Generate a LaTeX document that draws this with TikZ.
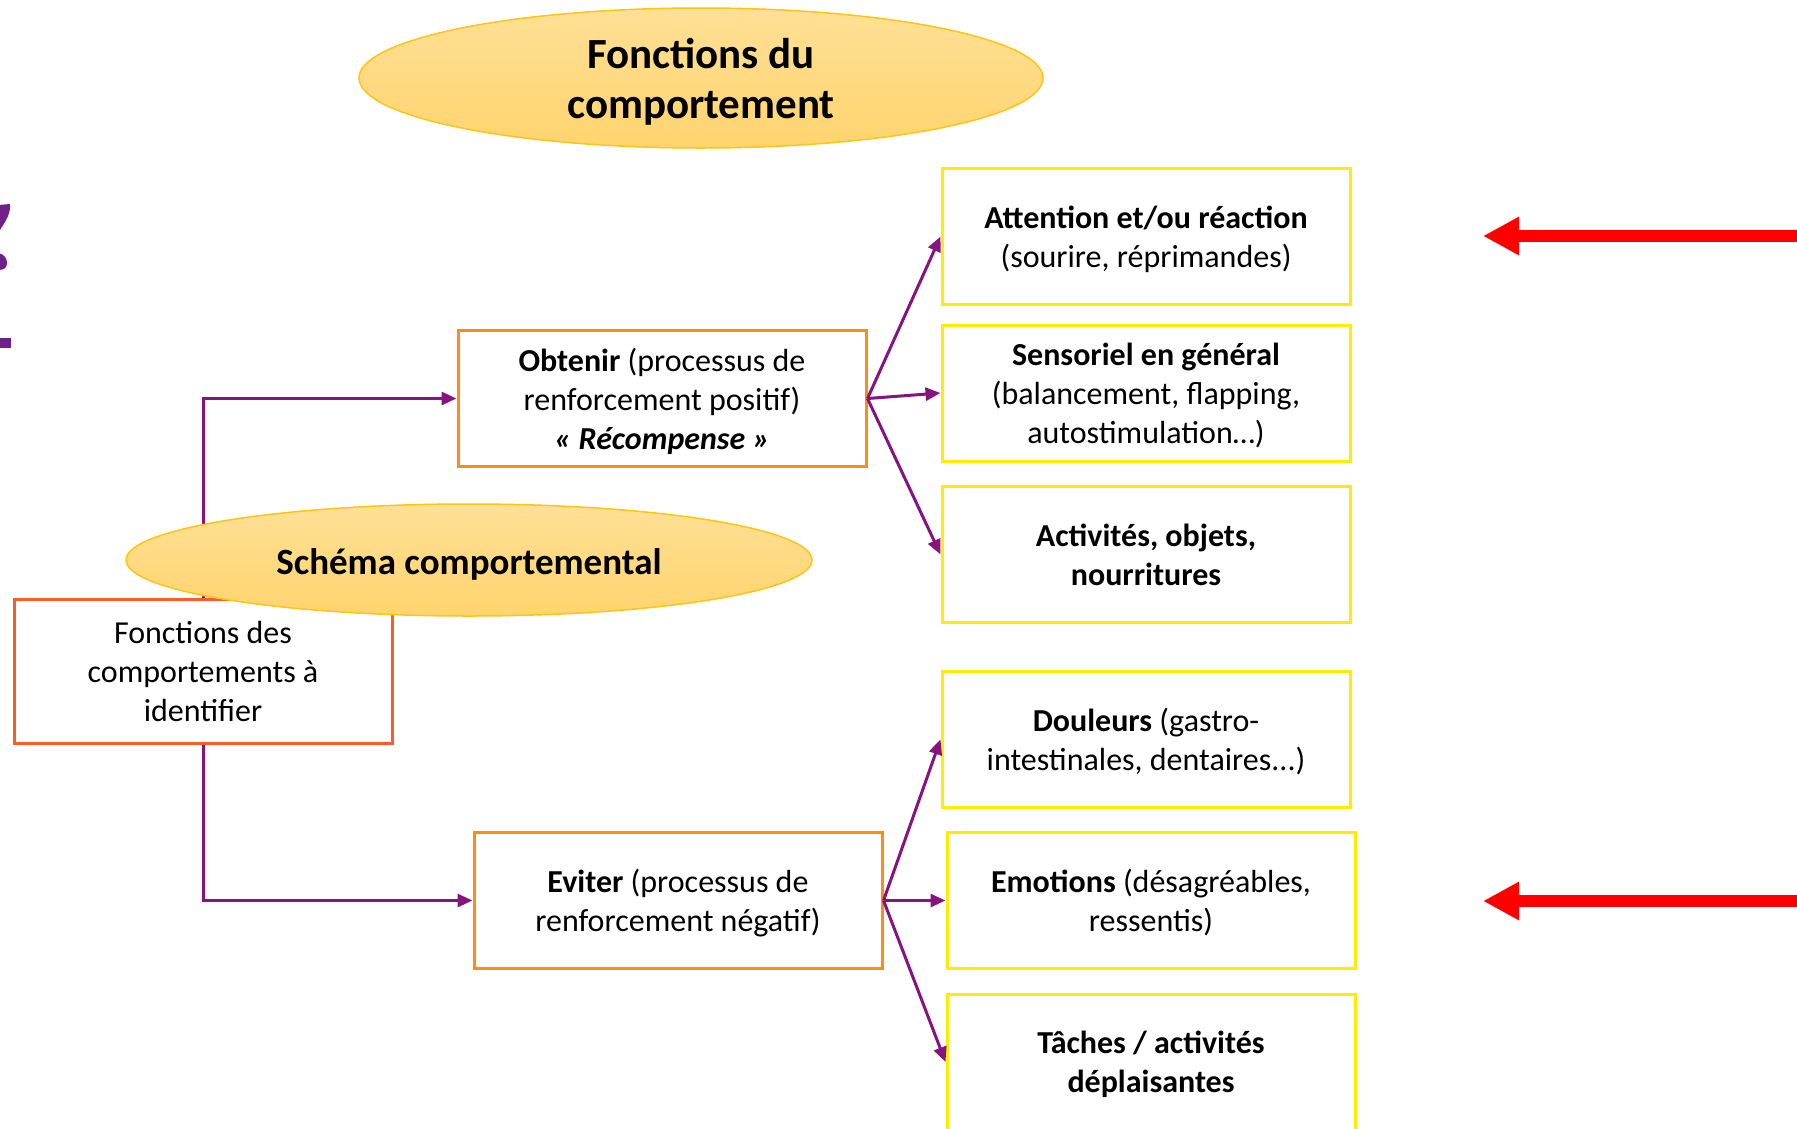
\documentclass[tikz,border=0pt]{standalone}
\usepackage{fontspec}
\setmainfont{Carlito}
\usetikzlibrary{arrows.meta,shapes.geometric}
\definecolor{conn}{RGB}{134,20,128}
\definecolor{ybox}{RGB}{255,236,0}
\definecolor{obox}{RGB}{255,140,20}
\definecolor{rbox}{RGB}{255,90,40}
\definecolor{elldraw}{RGB}{255,196,20}
\definecolor{elltop}{RGB}{255,224,150}
\definecolor{ellbot}{RGB}{255,212,110}
\definecolor{glyph}{RGB}{112,32,140}
\tikzset{
  boxtext/.style={align=center,font=\fontsize{32}{39}\selectfont,text depth=0pt},
  yb/.style={draw=ybox,line width=3pt,rectangle,inner sep=0pt,minimum width=408pt,minimum height=136pt,boxtext},
  ob/.style={draw=obox,line width=3pt,rectangle,inner sep=0pt,minimum width=408pt,minimum height=136pt,boxtext},
  rb/.style={draw=rbox,line width=3pt,rectangle,inner sep=0pt,minimum width=378pt,minimum height=144pt,boxtext},
  ell/.style={ellipse,draw=elldraw,line width=1.5pt,top color=elltop,bottom color=ellbot,inner sep=0pt,align=center},
  conarrow/.style={draw=conn,line width=3pt,-{Triangle[length=15pt,width=13pt]}},
  redarrow/.style={draw=red,line width=12pt,-{Triangle[length=36pt,width=36pt]}}
}
\begin{document}
\begin{tikzpicture}[x=1pt,y=-1pt]
\useasboundingbox (0,0) rectangle (1797,1128);
\clip (0,0) rectangle (1797,1128);
% glyph fragments at left edge
\fill[glyph] (-2,205) -- (10,204) .. controls (11,214) and (5,222) .. (0,230) -- (-2,230) -- cycle;
\fill[glyph] (-2,253) .. controls (4,254) and (7,258) .. (7,263) .. controls (7,268) and (4,270) .. (-2,270) -- cycle;
\fill[glyph] (-2,338) rectangle (11,348);
% title ellipse
\node[ell,minimum width=684pt,minimum height=140pt,font=\fontsize{43}{50}\selectfont\bfseries,text depth=-3pt] (title) at (701,78) {Fonctions du\\comportement};
% boxes
\node[yb] (attn) at (1146,236.5) {\textbf{Attention et/ou réaction}\\(sourire, réprimandes)};
\node[yb] (sens) at (1146,393) {\textbf{Sensoriel en général}\\(balancement, flapping,\\autostimulation…)};
\node[yb] (act) at (1146,554.5) {\textbf{Activités, objets,}\\\textbf{nourritures}};
\node[yb] (doul) at (1146,739.5) {\textbf{Douleurs} (gastro-\\intestinales, dentaires...)};
\node[yb] (emo) at (1151,900.5) {\textbf{Emotions} (désagréables,\\ressentis)};
\node[yb] (tach) at (1151,1062) {\textbf{Tâches / activités}\\\textbf{déplaisantes}};
\node[ob] (obt) at (662,398.5) {\textbf{Obtenir} (processus de\\renforcement positif)\\\textbf{\textit{« Récompense »}}};
\node[ob] (evi) at (678,900.5) {\textbf{Eviter} (processus de\\renforcement négatif)};
\node[rb] (fdes) at (203,671) {Fonctions des\\comportements à\\identifier};
% connectors
\draw[conarrow] (fdes.north) |- (obt.west);
\draw[conarrow] (fdes.south) |- (evi.west);
\draw[conarrow] (obt.east) -- (attn.west);
\draw[conarrow] (obt.east) -- (sens.west);
\draw[conarrow] (obt.east) -- (act.west);
\draw[conarrow] (evi.east) -- (doul.west);
\draw[conarrow] (evi.east) -- (emo.west);
\draw[conarrow] (evi.east) -- (tach.west);
% schema ellipse on top
\node[ell,minimum width=686pt,minimum height=112pt,font=\fontsize{37}{45}\selectfont\bfseries,execute at begin node={\rule{0pt}{35pt}}] (schema) at (469,560) {Schéma comportemental};
% red arrows
\coordinate (r1s) at (1810,236);
\coordinate (r1e) at (1483,236);
\coordinate (r2s) at (1810,901);
\coordinate (r2e) at (1483,901);
\draw[redarrow] (r1s) -- (r1e);
\draw[redarrow] (r2s) -- (r2e);
\end{tikzpicture}
\end{document}
